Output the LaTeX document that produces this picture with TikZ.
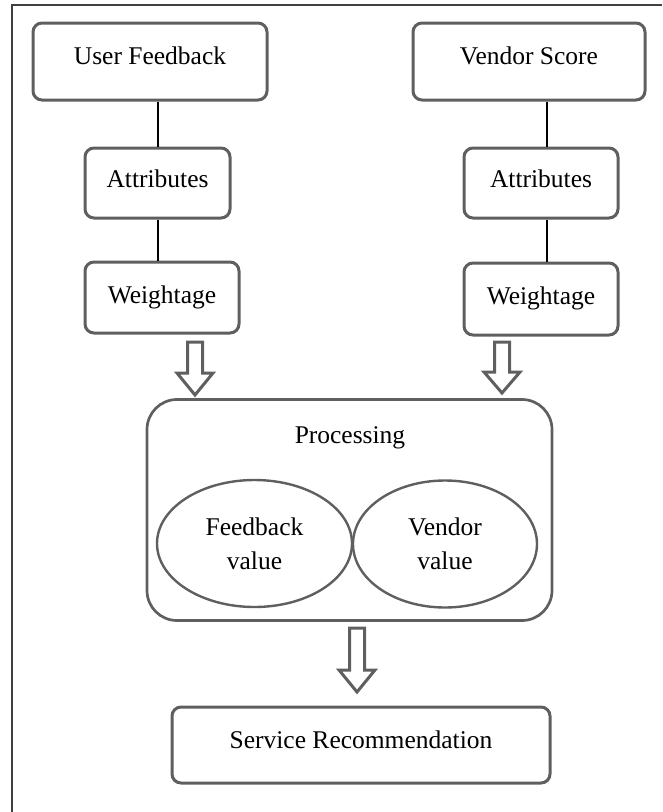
\documentclass[tikz,border=0pt]{standalone}
\usepackage{fontspec}
\setmainfont{Liberation Serif}
\usetikzlibrary{shapes.geometric,calc}
\definecolor{boxgray}{HTML}{5F5F5F}
\definecolor{framegray}{HTML}{404040}
\tikzset{
  box/.style={draw=boxgray, line width=3pt, rounded corners=9pt, fill=white,
    inner sep=0pt, align=center, text height=17pt, font=\fontsize{25.5}{29}\selectfont},
  oval/.style={ellipse, draw=boxgray, line width=2.4pt, inner sep=0pt, align=center,
    font=\fontsize{25.5}{34}\selectfont},
  conn/.style={draw=black, line width=1.1pt},
  blk/.style={draw=boxgray, line width=3pt, fill=white, line join=miter},
  lbl/.style={font=\fontsize{25.5}{29}\selectfont, inner sep=0pt}
}
\newcommand{\blockarr}[4]{% x, ytop, yheadstart, ytip
  \draw[blk] (#1-7.5,#2) -- (#1+7.5,#2) -- (#1+7.5,#3) -- (#1+18,#3) -- (#1,#4)
    -- (#1-18,#3) -- (#1-7.5,#3) -- cycle;}
\begin{document}
\begin{tikzpicture}[x=1pt,y=-1pt]
\useasboundingbox (0,0) rectangle (662,812);
\draw[framegray, line width=2pt] (12,812) -- (12,5) -- (662,5);

% left column
\node[box, minimum width=234pt, minimum height=77pt, text depth=12pt] (uf) at (150,61.5) {User Feedback};
\node[box, minimum width=145pt, minimum height=70pt, text depth=8pt] (al) at (157.5,183) {Attributes};
\node[box, minimum width=154pt, minimum height=71pt, text depth=6pt] (wl) at (162,297.5) {Weightage};

% right column
\node[box, minimum width=232pt, minimum height=77pt, text depth=12pt] (vs) at (529,61.5) {Vendor Score};
\node[box, minimum width=154pt, minimum height=70pt, text depth=8pt] (ar) at (541,183) {Attributes};
\node[box, minimum width=154pt, minimum height=72pt, text depth=6pt] (wr) at (541,299) {Weightage};

% connectors
\draw[conn] ($(uf.south)+(8,0)$) -- ($(al.north)+(0.5,0)$);
\draw[conn] ($(al.south)+(0.5,0)$) -- ($(wl.north)+(-4,0)$);
\draw[conn] ($(vs.south)+(18,0)$) -- ($(ar.north)+(6,0)$);
\draw[conn] ($(ar.south)+(6,0)$) -- ($(wr.north)+(6,0)$);

% processing
\node[draw=boxgray, line width=2.7pt, rounded corners=30pt, minimum width=405pt,
  minimum height=221pt, inner sep=0pt] (proc) at (349.5,510) {};
\node[lbl] (proct) at (350,438) {Processing};
\node[oval, minimum width=195pt, minimum height=127pt] (fv) at (254.5,543.5) {Feedback\\value};
\node[oval, minimum width=184pt, minimum height=127pt] (vv) at (445,544) {Vendor\\value};

% block arrows
\blockarr{195}{342}{373}{395}
\blockarr{502}{342}{372}{393}
\blockarr{357}{628}{670}{692}

% service recommendation
\node[box, minimum width=378pt, minimum height=76pt, text depth=10pt] (sr) at (361,745) {Service Recommendation};
\end{tikzpicture}
\end{document}
